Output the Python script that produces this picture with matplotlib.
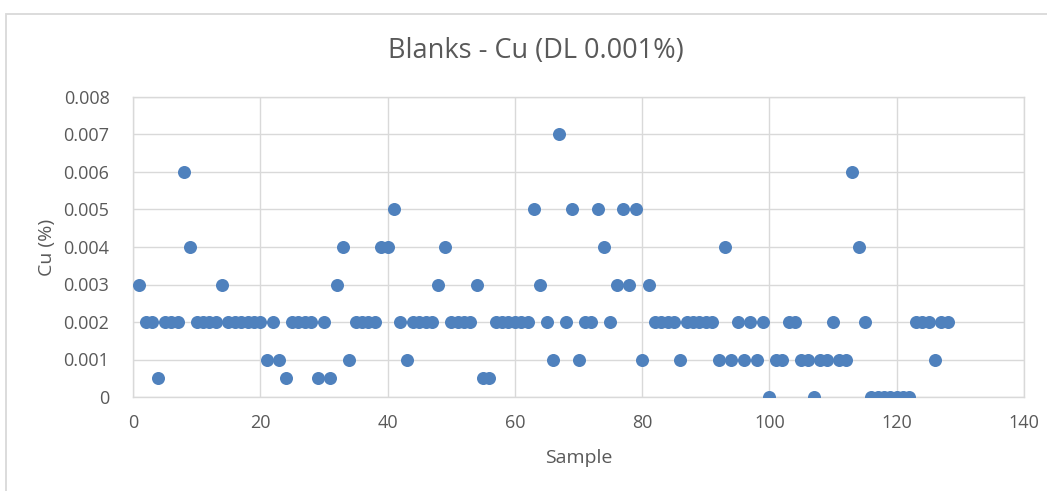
import matplotlib
matplotlib.use("Agg")
import matplotlib.pyplot as plt
from matplotlib.patches import Rectangle

plt.rcParams['font.family'] = ['Open Sans', 'DejaVu Sans']

samples = list(range(1, 129))
cu = [
    0.003, 0.002, 0.002, 0.0005, 0.002, 0.002, 0.002, 0.006, 0.004, 0.002,   # 1-10
    0.002, 0.002, 0.002, 0.003, 0.002, 0.002, 0.002, 0.002, 0.002, 0.002,    # 11-20
    0.001, 0.002, 0.001, 0.0005, 0.002, 0.002, 0.002, 0.002, 0.0005, 0.002,  # 21-30
    0.0005, 0.003, 0.004, 0.001, 0.002, 0.002, 0.002, 0.002, 0.004, 0.004,   # 31-40
    0.005, 0.002, 0.001, 0.002, 0.002, 0.002, 0.002, 0.003, 0.004, 0.002,    # 41-50
    0.002, 0.002, 0.002, 0.003, 0.0005, 0.0005, 0.002, 0.002, 0.002, 0.002,  # 51-60
    0.002, 0.002, 0.005, 0.003, 0.002, 0.001, 0.007, 0.002, 0.005, 0.001,    # 61-70
    0.002, 0.002, 0.005, 0.004, 0.002, 0.003, 0.005, 0.003, 0.005, 0.001,    # 71-80
    0.003, 0.002, 0.002, 0.002, 0.002, 0.001, 0.002, 0.002, 0.002, 0.002,    # 81-90
    0.002, 0.001, 0.004, 0.001, 0.002, 0.001, 0.002, 0.001, 0.002, 0.0,      # 91-100
    0.001, 0.001, 0.002, 0.002, 0.001, 0.001, 0.0, 0.001, 0.001, 0.002,      # 101-110
    0.001, 0.001, 0.006, 0.004, 0.002, 0.0, 0.0, 0.0, 0.0, 0.0,              # 111-120
    0.0, 0.0, 0.002, 0.002, 0.002, 0.001, 0.002, 0.002,                      # 121-128
]

title = "Blanks - Cu (DL 0.001%)"
xlabel = "Sample"
ylabel = "Cu (%)"
xticks = [0, 20, 40, 60, 80, 100, 120, 140]
yticks = [0, 0.001, 0.002, 0.003, 0.004, 0.005, 0.006, 0.007, 0.008]
ytick_labels = ["0", "0.001", "0.002", "0.003", "0.004", "0.005", "0.006", "0.007", "0.008"]

W, H = 1047, 491
fig = plt.figure(figsize=(W / 100, H / 100), dpi=100)
fig.patch.set_facecolor('white')

# chart border
fig.patches.append(Rectangle((6 / W, -0.1), 1.2, (H - 14) / H + 0.1,
                             transform=fig.transFigure, fill=False,
                             edgecolor='#D9D9D9', linewidth=1.3))

left, right, top, bottom = 133, 1024, 97, 397
ax = fig.add_axes([left / W, 1 - bottom / H, (right - left) / W, (bottom - top) / H])

grid_c = '#D9D9D9'
text_c = '#595959'

ax.scatter(samples, cu, s=88, color='#4F81BD', zorder=3, linewidths=0)

ax.set_xlim(0, 140)
ax.set_ylim(0, 0.008)
ax.set_xticks(xticks)
ax.set_yticks(yticks)
ax.set_yticklabels(ytick_labels)
ax.grid(True, color=grid_c, linewidth=1.0, zorder=0)
ax.set_axisbelow(True)
for sp in ax.spines.values():
    sp.set_color(grid_c)
    sp.set_linewidth(1.0)
ax.tick_params(axis='both', length=0, labelsize=13, colors=text_c)
ax.tick_params(axis='y', pad=17)
ax.tick_params(axis='x', pad=12)

ax.set_xlabel(xlabel, fontsize=14, color=text_c, va='center')
ax.set_ylabel(ylabel, fontsize=14, color=text_c, va='center')
ax.xaxis.set_label_coords(0.5, (bottom - 458) / (bottom - top))
ax.yaxis.set_label_coords((47 - left) / (right - left), 0.5)

fig.text(536 / W, 1 - 51 / H, title, fontsize=19.5, color=text_c,
         ha='center', va='center')

fig.savefig('out.png', dpi=100)
